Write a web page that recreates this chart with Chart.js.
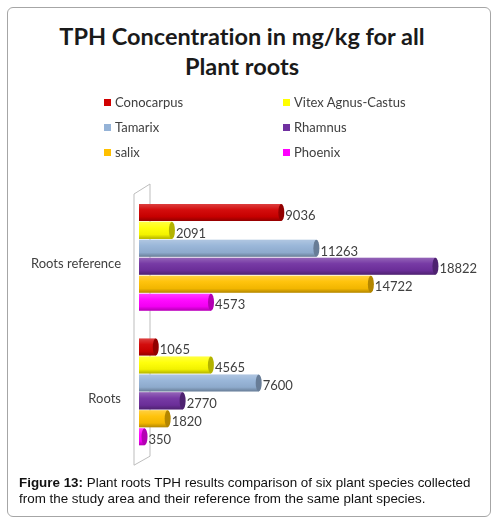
<!DOCTYPE html>
<html>
<head>
<meta charset="utf-8">
<script src="https://cdn.jsdelivr.net/npm/chart.js@4"></script>
<style>
  html, body { margin: 0; padding: 0; background: #fff; }
  body { width: 497px; height: 523px; position: relative; overflow: hidden; }
  #frame {
    position: absolute; left: 7px; top: 7px; width: 484px; height: 510px;
    border: 1px solid #a6a6a6; border-radius: 6px; box-sizing: border-box;
  }
  #title {
    position: absolute; left: 0; top: 21px; width: 484px; text-align: center;
    font-family: Lato, "Open Sans", sans-serif; font-weight: bold; font-size: 23.5px; line-height: 30px;
    color: #1a1a1a; font-variant-ligatures: none;
  }
  #wrap { position: absolute; left: 0; top: 0; width: 497px; height: 477px; }
  #legend { position: absolute; left: 0; top: 0; font-family: Lato, "Open Sans", sans-serif; font-size: 13px; color: #404040; }
  .item { position: absolute; white-space: nowrap; line-height: 14px; }
  .item span.sw { display: inline-block; width: 7px; height: 7px; margin-right: 4px; vertical-align: 1px; }
  #caption {
    position: absolute; left: 19px; top: 475px; width: 470px;
    font-family: "Liberation Sans", Arial, sans-serif; font-size: 13.4px; line-height: 16px; color: #111;
  }
</style>
</head>
<body>
<div id="frame"></div>
<div id="title">TPH Concentration in mg/kg for all<br>Plant roots</div>
<div id="wrap"><canvas id="tphChart" width="497" height="477"></canvas></div>
<div id="legend"></div>
<div id="caption"><b>Figure 13:</b> Plant roots TPH results comparison of six plant species collected from the study area and their reference from the same plant species.</div>
<script>
// categories top to bottom
const categories = ['Roots reference', 'Roots'];
const species = ['Conocarpus', 'Vitex Agnus-Castus', 'Tamarix', 'Rhamnus', 'salix', 'Phoenix'];

const conocarpus = [9036, 1065];
const vitex = [2091, 4565];
const tamarix = [11263, 7600];
const rhamnus = [18822, 2770];
const salix = [14722, 1820];
const phoenix = [4573, 350];

const colors = ['#d10000', '#ffff00', '#95b3d7', '#7030a0', '#ffc000', '#ff00ff'];
const series = [conocarpus, vitex, tamarix, rhamnus, salix, phoenix];

function shade(hex, f) {
    const n = parseInt(hex.slice(1), 16);
    const r = Math.round(((n >> 16) & 255) * f), g = Math.round(((n >> 8) & 255) * f), b = Math.round((n & 255) * f);
    return 'rgb(' + r + ',' + g + ',' + b + ')';
}

// gray side wall of the 3D plot
const wallPlugin = {
    id: 'wall',
    beforeDatasetsDraw(chart) {
        const a = chart.chartArea, c = chart.ctx;
        c.save();
        c.strokeStyle = '#bdbdbd';
        c.lineWidth = 1;
        c.beginPath();
        c.moveTo(a.left - 5, a.bottom + 6);
        c.lineTo(a.left - 5, a.top + 4);
        c.lineTo(a.left + 11, a.top - 6);
        c.lineTo(a.left + 11, a.bottom - 3);
        c.lineTo(a.left - 5, a.bottom + 6);
        c.stroke();
        c.restore();
    }
};

// cylinder shading, end caps and value labels
const barDecor = {
    id: 'barDecor',
    afterDatasetsDraw(chart) {
        const c = chart.ctx;
        c.save();
        chart.data.datasets.forEach((ds, i) => {
            const meta = chart.getDatasetMeta(i);
            meta.data.forEach((bar, j) => {
                const h = bar.height, top = bar.y - h / 2;
                const g = c.createLinearGradient(0, top, 0, top + h);
                g.addColorStop(0, 'rgba(255,255,255,0.25)');
                g.addColorStop(0.35, 'rgba(255,255,255,0.05)');
                g.addColorStop(0.75, 'rgba(0,0,0,0.05)');
                g.addColorStop(1, 'rgba(0,0,0,0.3)');
                c.fillStyle = g;
                c.fillRect(bar.base, top, bar.x - bar.base, h);
                c.beginPath();
                c.ellipse(bar.x, bar.y, 3, h / 2, 0, 0, Math.PI * 2);
                c.fillStyle = shade(colors[i], 0.7);
                c.fill();
                c.fillStyle = '#404040';
                c.font = '13px Lato, "Open Sans", sans-serif';
                c.textBaseline = 'middle';
                c.fillText(ds.data[j], bar.x + 4, bar.y + 3);
            });
        });
        c.restore();
    }
};

const chart = new Chart(document.getElementById('tphChart'), {
    type: 'bar',
    data: {
        labels: categories,
        datasets: species.map((name, i) => ({
            label: name,
            data: series[i],
            backgroundColor: colors[i],
            borderWidth: 0,
            categoryPercentage: 0.8,
            barPercentage: 0.95
        }))
    },
    options: {
        indexAxis: 'y',
        responsive: false,
        animation: false,
        layout: { padding: { left: 0, right: 43, top: 190, bottom: 4 } },
        plugins: {
            legend: { display: false },
            tooltip: { enabled: false },
            title: { display: false }
        },
        scales: {
            x: { display: false, min: 0, max: 20000 },
            y: {
                grid: { display: false },
                border: { display: false },
                ticks: { color: '#404040', padding: 10, labelOffset: 7, font: { family: 'Lato, "Open Sans", sans-serif', size: 13 } },
                afterFit(scale) { scale.width = 139; }
            }
        }
    },
    plugins: [wallPlugin, barDecor]
});

// two-column legend built from the datasets
const legend = document.getElementById('legend');
chart.data.datasets.forEach((ds, i) => {
    const el = document.createElement('div');
    el.className = 'item';
    el.style.left = (i % 2 === 0 ? 104 : 283) + 'px';
    el.style.top = (95 + Math.floor(i / 2) * 25) + 'px';
    el.innerHTML = '<span class="sw" style="background:' + ds.backgroundColor + '"></span>' + ds.label;
    legend.appendChild(el);
});
</script>
</body>
</html>
